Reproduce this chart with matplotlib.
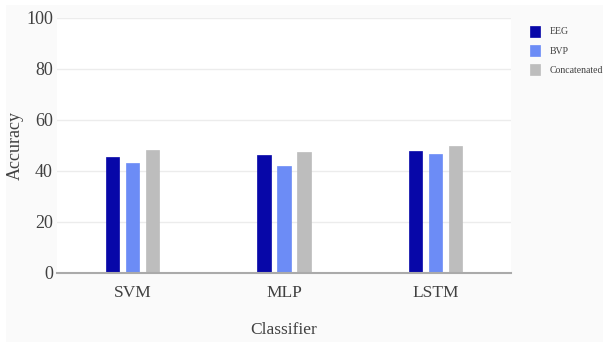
import numpy as np
import matplotlib
matplotlib.use("Agg")
import matplotlib.pyplot as plt
from matplotlib.patches import Rectangle

classifiers = ['SVM', 'MLP', 'LSTM']
eeg = [45.6, 46.4, 47.6]
bvp = [43.2, 41.9, 46.8]
concat = [48.0, 47.2, 49.8]
series_names = ['EEG', 'BVP', 'Concatenated']
colors = ['#0707a8', '#6c8cf6', '#bdbdbd']

plt.rcParams['font.family'] = ['Liberation Serif', 'DejaVu Serif']
txt = '#404040'

fig = plt.figure(figsize=(6.03, 3.42), dpi=100, facecolor='white')
# light grey panel behind everything
fig.patches.append(Rectangle((6 / 603, 0), 1, 1 - 5 / 342, transform=fig.transFigure,
                             facecolor='#fafafa', edgecolor='none', zorder=-10))

ax = fig.add_axes([57 / 603, 1 - 272.7 / 342, 454 / 603, 254.7 / 342])
ax.set_facecolor('white')

x = np.arange(len(classifiers))
w = 0.089
step = 0.132
for i, (vals, name, c) in enumerate(zip([eeg, bvp, concat], series_names, colors)):
    ax.bar(x + (i - 1) * step, vals, w, color=c, label=name, zorder=3,
           edgecolor=c, linewidth=0.5)

ax.set_xlim(-0.5, 2.5)
ax.set_ylim(0, 100)
ax.set_yticks([0, 20, 40, 60, 80, 100])
ax.set_xticks(x)
ax.set_xticklabels(classifiers)
ax.grid(axis='y', color='#ececec', linewidth=1, zorder=0)
for s in ['top', 'right', 'left']:
    ax.spines[s].set_visible(False)
ax.spines['bottom'].set_color('#aaaaaa')
ax.spines['bottom'].set_linewidth(1.5)
ax.spines['bottom'].set_zorder(4)
ax.tick_params(axis='both', length=0, colors=txt)
ax.tick_params(axis='y', labelsize=13, pad=3)
ax.tick_params(axis='x', labelsize=12.5, pad=9)

ax.set_ylabel('Accuracy', fontsize=13, color=txt, va='center')
ax.yaxis.set_label_coords(-0.0925, 0.5)
ax.set_xlabel('Classifier', fontsize=12.5, color=txt, va='center')
ax.xaxis.set_label_coords(0.5, -0.225)

fig.legend(loc='upper left', bbox_to_anchor=(521 / 603, 1 - 17 / 342), frameon=False,
           fontsize=7.0, handlelength=1.05, handleheight=1.35, handletextpad=1.0,
           labelspacing=0.85, labelcolor=txt)

fig.savefig('out.png', dpi=100, facecolor=fig.get_facecolor())
